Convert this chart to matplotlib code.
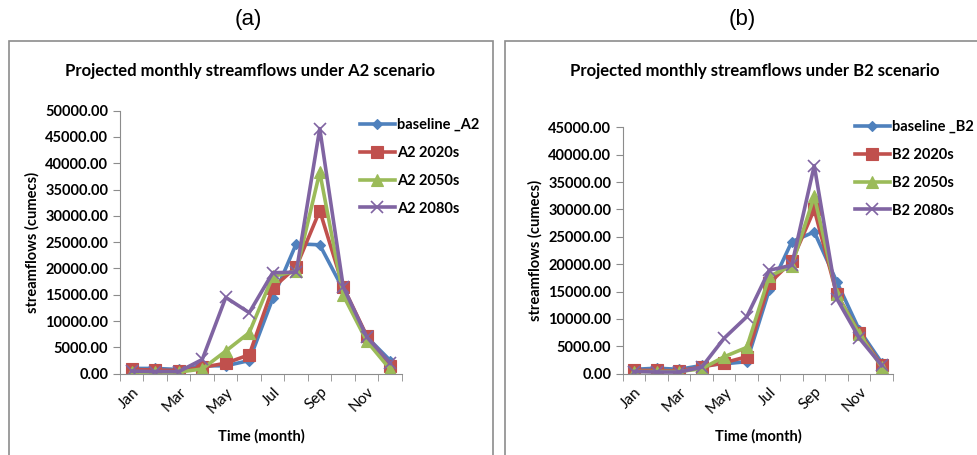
import numpy as np
import matplotlib
matplotlib.use('Agg')
from matplotlib import pyplot as plt
from matplotlib.patches import Rectangle
from matplotlib.ticker import FormatStrFormatter, FixedLocator


months = ['Jan', 'Feb', 'Mar', 'Apr', 'May', 'Jun',
          'Jul', 'Aug', 'Sep', 'Oct', 'Nov', 'Dec']

# panel (a) - A2 scenario
base_a2 = [1000, 1000, 800, 1500, 1500, 2500, 14300, 24700, 24500, 16000, 7000, 2500]
a2_2020 = [800, 700, 600, 1200, 2000, 3600, 16300, 20300, 31000, 16500, 7200, 1500]
a2_2050 = [300, 300, 300, 900, 4300, 7800, 18500, 19500, 38300, 14900, 6200, 800]
a2_2080 = [500, 400, 400, 2700, 14500, 11600, 19200, 19300, 46600, 16500, 7000, 2000]

# panel (b) - B2 scenario
base_b2 = [800, 1000, 800, 1500, 1800, 2200, 15300, 24100, 25900, 16800, 8000, 2000]
b2_2020 = [600, 600, 500, 1200, 2000, 3100, 16500, 20500, 30000, 14500, 7500, 1500]
b2_2050 = [400, 400, 400, 900, 3100, 4800, 17800, 19700, 32400, 14500, 7300, 1200]
b2_2080 = [400, 300, 300, 1200, 6500, 10400, 18900, 19800, 38000, 13700, 6500, 1500]

colors = ['#4F81BD', '#C0504D', '#9BBB59', '#8064A2']
markers = ['D', 's', '^', 'x']
msizes = [5, 9, 8.5, 9]

plt.rcParams['font.family'] = ['Lato', 'DejaVu Sans']

W, H = 978, 455
fig = plt.figure(figsize=(W/100, H/100), dpi=100)


def px_axes(x0, x1, ytop, ybot):
    return [x0/W, 1 - ybot/H, (x1 - x0)/W, (ybot - ytop)/H]


def panel(rect, series, names, ymax, title, tag, box, title_x, tag_x, leg_xy):
    # grey frame around the chart (excel chart area), runs off the bottom
    top = 1 - box[1]/H
    fig.patches.append(Rectangle((box[0]/W, -0.3), (box[2]-box[0])/W, top + 0.3,
                                 transform=fig.transFigure, fill=False,
                                 edgecolor='#8c8c8c', lw=1.2, clip_on=False))
    fig.text(tag_x/W, 1 - 20/H, tag, ha='center', va='center', fontsize=16,
             family='Liberation Sans')
    fig.text(title_x/W, 1 - 71/H, title, ha='center', va='center',
             fontsize=12, fontweight='bold')

    ax = fig.add_axes(rect)
    x = np.arange(len(months))
    for s, nm, c, m, ms in zip(series, names, colors, markers, msizes):
        ax.plot(x, s, color=c, lw=2.6, marker=m, markersize=ms,
                markerfacecolor=c, markeredgecolor=c, mew=1.2 if m == 'x' else 0.8,
                label=nm)
    ax.set_xlim(-0.5, 11.5)
    ax.set_ylim(0, ymax)
    ax.yaxis.set_major_locator(FixedLocator(np.arange(0, ymax + 1, 5000)))
    ax.yaxis.set_major_formatter(FormatStrFormatter('%.2f'))
    ax.set_xticks(x[::2])
    ax.set_xticklabels(months[::2], rotation=45, ha='right', rotation_mode='anchor',
                       fontsize=11)
    ax.set_xticks(np.arange(-0.5, 12, 1), minor=True)
    ax.tick_params(axis='x', which='major', length=0, pad=8)
    ax.tick_params(axis='x', which='minor', length=5, color='#8c8c8c')
    ax.tick_params(axis='y', length=5, color='#8c8c8c', labelsize=10.5)
    for lab in ax.get_yticklabels():
        lab.set_fontweight('bold')
    for sp in ['top', 'right']:
        ax.spines[sp].set_visible(False)
    for sp in ['left', 'bottom']:
        ax.spines[sp].set_color('#8c8c8c')
    ax.set_ylabel('streamflows (cumecs)', fontweight='bold', fontsize=10.5)
    ax.set_xlabel('Time (month)', fontweight='bold', fontsize=10.5, labelpad=10)
    ax.legend(loc='upper left', bbox_to_anchor=(leg_xy[0]/W, 1 - leg_xy[1]/H),
              bbox_transform=fig.transFigure, frameon=False, prop={'weight': 'bold', 'size': 10.5},
              handlelength=2.4, handletextpad=0.15, labelspacing=0.95, borderpad=0,
              borderaxespad=0)
    return ax


panel(px_axes(120, 402, 110.7, 373.7), [base_a2, a2_2020, a2_2050, a2_2080],
      ['baseline _A2', 'A2 2020s', 'A2 2050s', 'A2 2080s'], 50000,
      'Projected monthly streamflows under A2 scenario', '(a)',
      (9, 41, 493), 250, 248, (360, 118))

panel(px_axes(623, 893, 127.3, 373.7), [base_b2, b2_2020, b2_2050, b2_2080],
      ['baseline _B2', 'B2 2020s', 'B2 2050s', 'B2 2080s'], 45000,
      'Projected monthly streamflows under B2 scenario', '(b)',
      (505, 41, 985), 755, 742, (855, 120))

fig.savefig('out.png', dpi=100)
